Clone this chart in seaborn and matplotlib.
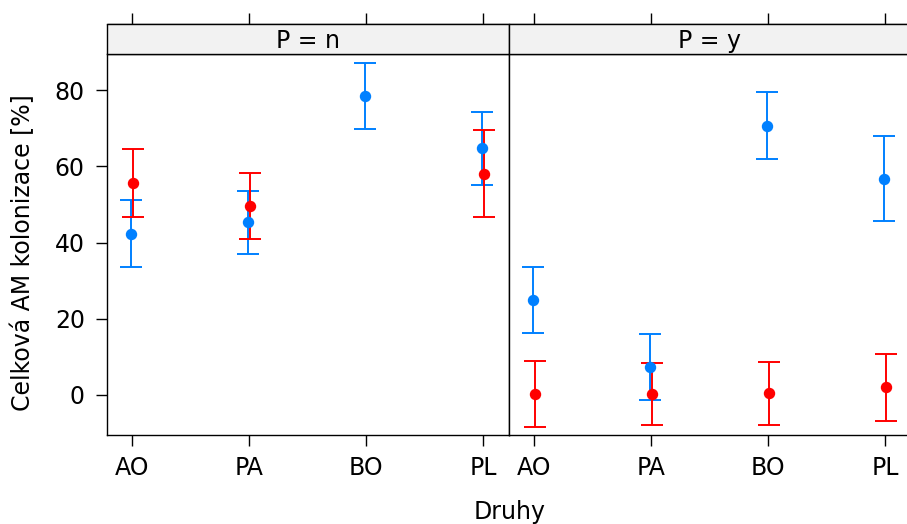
import matplotlib.pyplot as plt
import matplotlib.patches as patches
import numpy as np
import pandas as pd
import seaborn as sns

species = ['AO', 'PA', 'BO', 'PL']
panels = ['n', 'y']

# values: first four are panel P = n, last four P = y
blue_mean = [42.3, 45.3, 78.5, 64.7, 24.9, 7.4, 70.7, 56.8]
blue_low = [33.5, 37.0, 69.9, 55.1, 16.2, -1.2, 61.9, 45.7]
blue_high = [51.2, 53.6, 87.1, 74.3, 33.7, 15.9, 79.6, 67.9]
red_mean = [55.6, 49.7, np.nan, 58.1, 0.3, 0.2, 0.4, 2.1]
red_low = [46.6, 40.9, np.nan, 46.8, -8.3, -8.0, -7.9, -6.7]
red_high = [64.6, 58.3, np.nan, 69.6, 8.9, 8.4, 8.7, 10.8]

colors = {'blue': '#0080FF', 'red': '#FF0000'}
offsets = {'blue': -0.011, 'red': 0.010}


def build_df():
    """
    Long table with one row per point.
    """

    rows = []
    for grp, mean, low, high in [('blue', blue_mean, blue_low, blue_high),
                                 ('red', red_mean, red_low, red_high)]:
        for i in range(8):
            rows.append({'P': panels[i // 4], 'Druhy': species[i % 4], 'grp': grp,
                         'mean': mean[i], 'low': low[i], 'high': high[i]})
    return pd.DataFrame(rows).dropna()


def draw_bars(data, **kwargs):
    """
    Points with error bars, one group at a time.
    """

    ax = plt.gca()
    for grp in ['blue', 'red']:
        d = data[data['grp'] == grp]
        x = d['Druhy'].map({s: i + 1 for i, s in enumerate(species)}) + offsets[grp]
        ax.errorbar(x, d['mean'], yerr=[d['mean'] - d['low'], d['high'] - d['mean']],
                    fmt='o', color=colors[grp], ms=7.2, capsize=7.6, elinewidth=1.4,
                    capthick=1.4, zorder=3)


sns.set_style('ticks')
plt.rcParams['font.family'] = ['DejaVu Sans']
fs = 17
plt.rcParams['font.size'] = fs
plt.rcParams['text.color'] = 'black'
plt.rcParams['xtick.color'] = 'black'
plt.rcParams['ytick.color'] = 'black'

df = build_df()
g = sns.FacetGrid(df, col='P', col_order=panels, sharey=True, height=5.24, aspect=0.87)
g.map_dataframe(draw_bars)
fig = g.figure
fig.set_size_inches(9.07, 5.24)

W, H = 907, 524
strip_h = 30 / 381
for i, ax in enumerate(g.axes.flat):
    ax.set_position([(107 + 402 * i) / W, (H - 435) / H, 402 / W, 381 / H])
    ax.set_xlim(0.786, 4.22)
    ax.set_ylim(-10.5, 89.5)
    ax.set_title('')
    ax.set_xlabel('')
    ax.set_ylabel('')
    ax.set_xticks(range(1, 5))
    ax.set_xticklabels(species)
    for sp in ax.spines.values():
        sp.set_visible(True)
        sp.set_linewidth(1.0)
        sp.set_color('black')
    ax.tick_params(axis='x', direction='out', length=8, width=1, pad=7, labelsize=fs)
    if i == 0:
        ax.set_yticks([0, 20, 40, 60, 80])
        ax.tick_params(axis='y', direction='out', length=8, width=1, pad=8, labelsize=fs)
    else:
        ax.tick_params(axis='y', left=False, labelleft=False)

    # strip on top, lattice style
    ax.add_patch(patches.Rectangle((0, 1), 1, strip_h, transform=ax.transAxes,
                                   facecolor='#F2F2F2', edgecolor='black', lw=1.0,
                                   clip_on=False, zorder=5))
    ax.text(0.5, 1 + (435 - 47.7 - 381) / 381, f'P = {panels[i]}', transform=ax.transAxes,
            ha='center', va='baseline', fontsize=fs, zorder=6)
    top = ax.secondary_xaxis(1 + strip_h)
    top.set_xticks(range(1, 5))
    top.set_xticklabels([])
    top.tick_params(direction='out', length=8, width=1)
    top.spines['top'].set_linewidth(1.0)

fig.text(22.5 / W, 1 - 252.5 / H, 'Celková AM kolonizace [%]', rotation=90,
         ha='center', va='center', fontsize=fs)
fig.text(510 / W, 1 - 518.5 / H, 'Druhy', ha='center', va='baseline', fontsize=fs)

plt.savefig('out.png', dpi=100)
